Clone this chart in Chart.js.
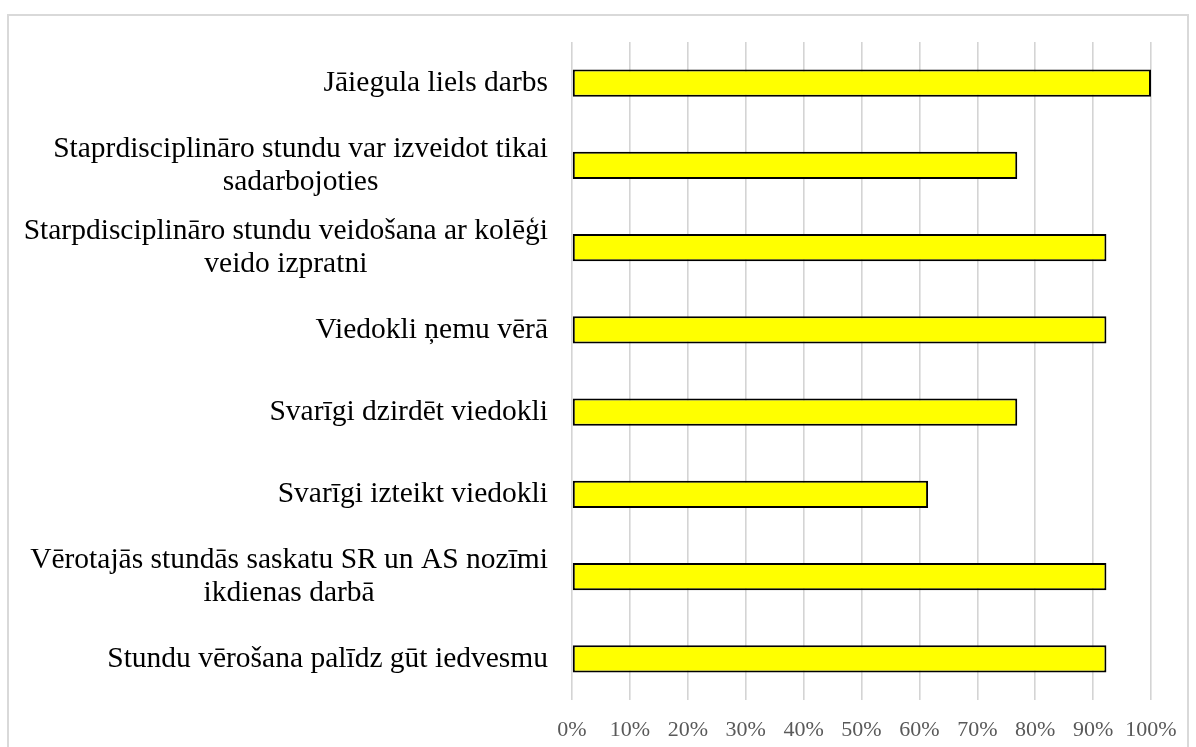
<!DOCTYPE html>
<html>
<head>
<meta charset="utf-8">
<script src="https://cdn.jsdelivr.net/npm/chart.js@4"></script>
<style>
    body { margin: 0; background: #fff; }
    #frame {
        position: absolute; left: 7px; top: 14px;
        width: 1182px; height: 760px;
        border: 2px solid #d9d9d9; box-sizing: border-box;
    }
    #wrap { position: absolute; left: 0; top: 0; width: 1196px; height: 747px; }
</style>
</head>
<body>
<div id="frame"></div>
<div id="wrap"><canvas id="barChart" width="1196" height="747"></canvas></div>
<script>
// ========== DATA ==========
const categories = [
    ["Jāiegula liels darbs"],
    ["Staprdisciplināro stundu var izveidot tikai", "sadarbojoties"],
    ["Starpdisciplināro stundu veidošana ar kolēģi", "veido izpratni"],
    ["Viedokli ņemu vērā"],
    ["Svarīgi dzirdēt viedokli"],
    ["Svarīgi izteikt viedokli"],
    ["Vērotajās stundās saskatu SR un AS nozīmi", "ikdienas darbā"],
    ["Stundu vērošana palīdz gūt iedvesmu"]
];
const percentValues = [100, 76.9, 92.3, 92.3, 76.9, 61.5, 92.3, 92.3];
const tickValues = [0, 10, 20, 30, 40, 50, 60, 70, 80, 90, 100];

const serif = "'Liberation Serif', 'Times New Roman', serif";

// ========== CATEGORY LABELS (right block, lines centred) ==========
const categoryLabels = {
    id: "categoryLabels",
    afterDraw(chart) {
        const ctx = chart.ctx;
        const yScale = chart.scales.y;
        const right = chart.chartArea.left - 24;
        const lineH = 33;
        ctx.save();
        ctx.font = "29.5px " + serif;
        ctx.fillStyle = "#000";
        ctx.textAlign = "center";
        ctx.textBaseline = "middle";
        categories.forEach((lines, i) => {
            const widest = Math.max(...lines.map(l => ctx.measureText(l).width));
            const cx = right - widest / 2;
            const cy = yScale.getPixelForValue(i);
            lines.forEach((line, j) => {
                ctx.fillText(line, cx, cy + (j - (lines.length - 1) / 2) * lineH);
            });
        });
        ctx.restore();
    }
};

// ========== CHART ==========
const ctx = document.getElementById("barChart").getContext("2d");
new Chart(ctx, {
    type: "bar",
    data: {
        labels: categories.map(c => c.join(" ")),
        datasets: [
            {
                data: percentValues,
                backgroundColor: "#ffff00",
                borderColor: "#000000",
                borderWidth: 2,
                borderSkipped: false,
                categoryPercentage: 1,
                barPercentage: 0.33
            }
        ]
    },
    options: {
        indexAxis: "y",
        responsive: false,
        animation: false,
        layout: { padding: { top: 42, right: 45, left: 0, bottom: 0 } },
        plugins: {
            legend: { display: false },
            tooltip: { enabled: false }
        },
        scales: {
            x: {
                min: 0,
                max: 100,
                afterBuildTicks: function (scale) {
                    scale.ticks = tickValues.map(v => ({ value: v }));
                },
                afterFit: function (scale) { scale.height = 47; },
                border: { display: false },
                grid: { color: "#d4d4d4", lineWidth: 1.6, drawTicks: false },
                ticks: {
                    padding: 17,
                    color: "#595959",
                    font: { family: serif, size: 22 },
                    callback: function (value) { return value + "%"; }
                }
            },
            y: {
                afterFit: function (scale) { scale.width = 572; },
                border: { display: false },
                grid: { display: false },
                ticks: { display: false }
            }
        }
    },
    plugins: [categoryLabels]
});
</script>
</body>
</html>
